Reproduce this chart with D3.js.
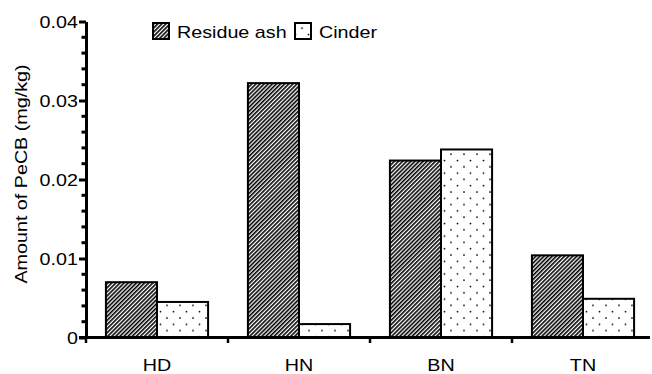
<!DOCTYPE html>
<html>
<head>
<meta charset="utf-8">
<script src="https://cdn.jsdelivr.net/npm/d3@7"></script>
<style>
  body { margin: 0; background: #fff; }
  svg { display: block; font-family: "Liberation Sans", Arial, sans-serif; }
</style>
</head>
<body>
<svg id="chart" width="652" height="374"></svg>
<script>
const categories = ['HD', 'HN', 'BN', 'TN'];
const seriesNames = ['Residue ash', 'Cinder'];
const residueAsh = [0.0070, 0.0322, 0.0224, 0.0104];
const cinder = [0.0045, 0.0017, 0.0238, 0.0049];
const yTicks = [0, 0.01, 0.02, 0.03, 0.04];
const yTickLabels = ['0', '0.01', '0.02', '0.03', '0.04'];

const svg = d3.select('#chart');
const plotLeft = 86, plotRight = 654, plotTop = 21.5, plotBottom = 337.5;
const fontSize = 17, stretch = 1.16;

const defs = svg.append('defs');
const hatch = defs.append('pattern')
    .attr('id', 'hatch')
    .attr('patternUnits', 'userSpaceOnUse')
    .attr('width', 2.9).attr('height', 10)
    .attr('patternTransform', 'rotate(45)');
hatch.append('rect').attr('width', 2.9).attr('height', 10).attr('fill', '#fff');
hatch.append('rect').attr('width', 1.6).attr('height', 10).attr('fill', '#000');

const dots = defs.append('pattern')
    .attr('id', 'dots')
    .attr('patternUnits', 'userSpaceOnUse')
    .attr('width', 13).attr('height', 12.6);
dots.append('rect').attr('width', 13).attr('height', 12.6).attr('fill', '#fff');
dots.append('circle').attr('cx', 3).attr('cy', 3).attr('r', 0.9).attr('fill', '#000');
dots.append('circle').attr('cx', 9.5).attr('cy', 9.3).attr('r', 0.9).attr('fill', '#000');

const fills = ['url(#hatch)', 'url(#dots)'];

const y = d3.scaleLinear().domain([0, 0.04]).range([plotBottom, plotTop]);
const x0 = d3.scaleBand().domain(categories).range([plotLeft, plotRight]).padding(0);
const x1 = d3.scaleBand().domain(seriesNames).range([0, x0.bandwidth()])
    .paddingInner(0).paddingOuter(0.39);

const data = categories.map((c, i) => ({ cat: c, values: [residueAsh[i], cinder[i]] }));

// helper: wide-looking text like the original export
const wideText = (sel, x, yy, anchor, rot) => sel
    .attr('transform', `translate(${x},${yy})${rot ? ' rotate(-90)' : ''} scale(${stretch},1)`)
    .attr('text-anchor', anchor)
    .attr('font-size', fontSize)
    .attr('fill', '#000');

// bars
const groups = svg.append('g').selectAll('g')
    .data(data)
    .join('g')
        .attr('transform', d => `translate(${x0(d.cat)},0)`);

groups.selectAll('rect')
    .data(d => d.values.map((v, k) => ({ key: seriesNames[k], v, k })))
    .join('rect')
        .attr('x', d => x1(d.key))
        .attr('y', d => y(d.v))
        .attr('width', x1.bandwidth())
        .attr('height', d => plotBottom - y(d.v))
        .attr('fill', d => fills[d.k])
        .attr('stroke', '#000')
        .attr('stroke-width', 2);

// y axis
const yAxis = svg.append('g')
    .attr('transform', `translate(${plotLeft},0)`)
    .call(d3.axisLeft(y).tickValues(yTicks).tickFormat('').tickSize(7).tickSizeOuter(0));
yAxis.select('.domain').style('stroke', '#000').style('stroke-width', 3);
yAxis.selectAll('.tick line').style('stroke', '#000').style('stroke-width', 3);

svg.append('g').selectAll('text')
    .data(yTicks)
    .join('text')
        .each(function(d) { wideText(d3.select(this), plotLeft - 8, y(d) + 6, 'end', false); })
        .text((d, i) => yTickLabels[i]);

const minor = d3.range(0, 0.0401, 0.002).filter(v => Math.round(v * 1000) % 10 !== 0);
svg.append('g').selectAll('line')
    .data(minor)
    .join('line')
        .attr('x1', plotLeft - 4.5).attr('x2', plotLeft)
        .attr('y1', d => y(d)).attr('y2', d => y(d))
        .style('stroke', '#000').style('stroke-width', 3);

// x axis
const xAxis = svg.append('g')
    .attr('transform', `translate(0,${plotBottom})`);
xAxis.append('line')
    .attr('x1', plotLeft - 7).attr('x2', 650)
    .style('stroke', '#000').style('stroke-width', 3);
xAxis.selectAll('line.tk')
    .data(categories)
    .join('line')
        .attr('class', 'tk')
        .attr('x1', d => x0(d)).attr('x2', d => x0(d))
        .attr('y1', 0).attr('y2', 5.5)
        .style('stroke', '#000').style('stroke-width', 2.5);
xAxis.selectAll('text')
    .data(categories)
    .join('text')
        .each(function(d) { wideText(d3.select(this), x0(d) + x0.bandwidth() / 2, 33, 'middle', false); })
        .text(d => d);

// y label
wideText(svg.append('text'), 27, 174, 'middle', true)
    .text('Amount of PeCB (mg/kg)');

// legend
const legend = svg.append('g');
const legendItems = [
    { name: seriesNames[0], fill: fills[0], x: 153 },
    { name: seriesNames[1], fill: fills[1], x: 295 }
];
legendItems.forEach(it => {
    legend.append('rect')
        .attr('x', it.x).attr('y', 23)
        .attr('width', 16).attr('height', 16)
        .attr('fill', it.fill)
        .attr('stroke', '#000').attr('stroke-width', 2);
    wideText(legend.append('text'), it.x + 24, 38, 'start', false)
        .text(it.name);
});
</script>
</body>
</html>
